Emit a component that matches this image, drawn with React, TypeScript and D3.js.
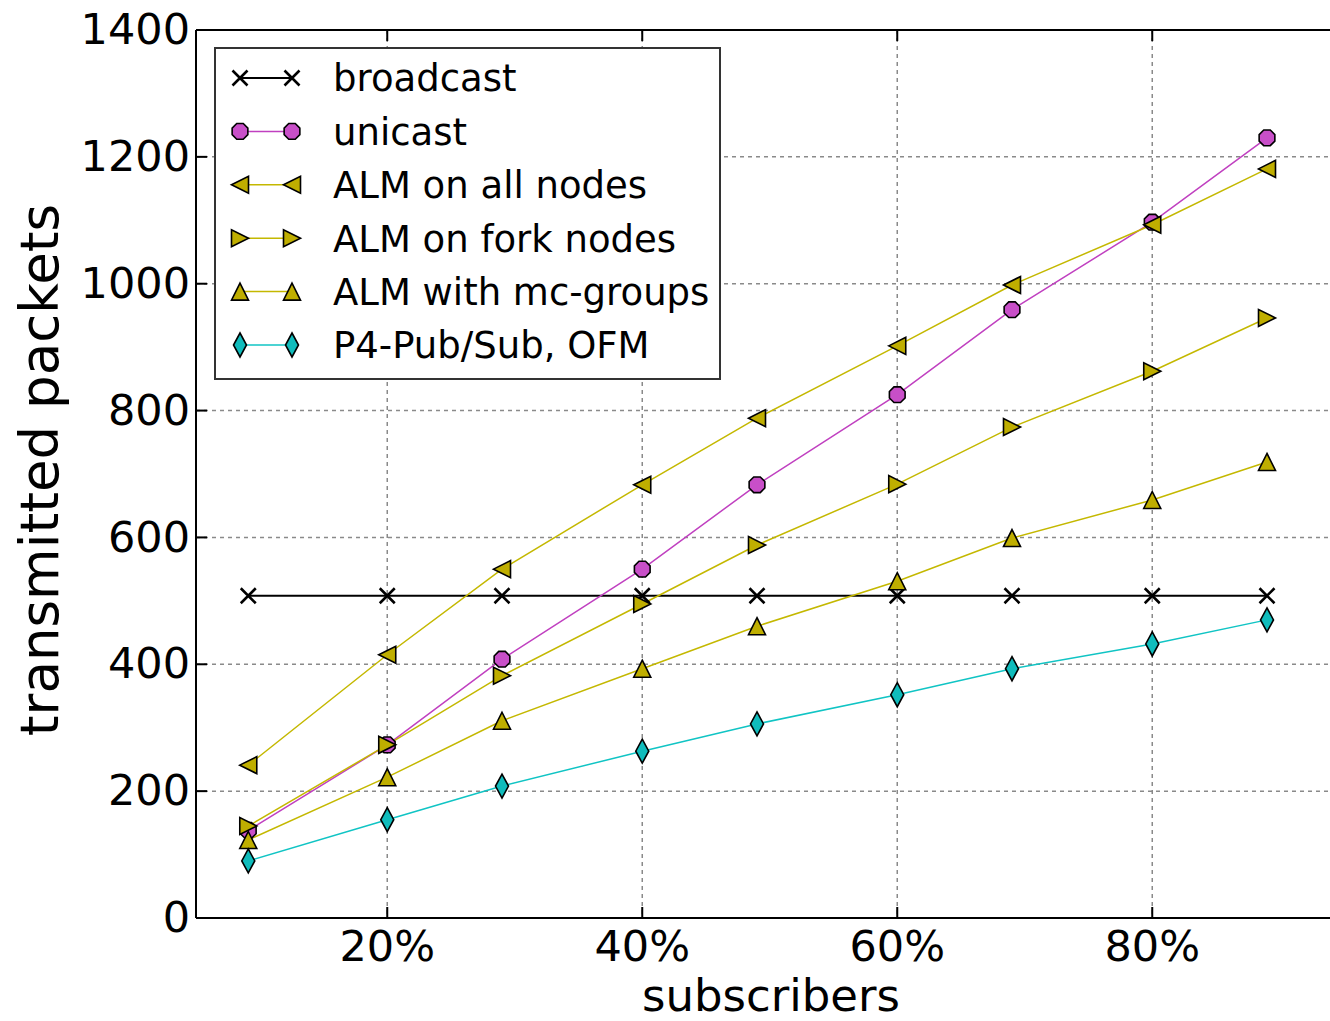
import React from 'react'
import { scaleLinear, line } from 'd3'

const width = 1330
const height = 1021
const margin = { top: 30, left: 196, bottom: 103 }
const innerHeight = height - margin.top - margin.bottom
const innerWidth = 1147.5

// subscriber share (%) for each measurement
const subscribers = [9.1, 20, 29, 40, 49, 60, 69, 80, 89]

const broadcast = [508, 508, 508, 508, 508, 508, 508, 508, 508]
const unicast = [138, 273, 408, 550, 683, 825, 959, 1097, 1230]
const almAll = [241, 415, 550, 683, 788, 902, 998, 1093, 1181]
const almFork = [145, 273, 382, 495, 588, 684, 774, 862, 946]
const almMc = [123, 222, 311, 393, 460, 531, 599, 659, 719]
const p4PubSub = [90, 155, 208, 263, 306, 352, 393, 432, 470]

const xTicks = [20, 40, 60, 80]
const yTicks = [0, 200, 400, 600, 800, 1000, 1200, 1400]

const series = [
  { name: 'broadcast', values: broadcast, color: '#000000', marker: 'x', lw: 2 },
  { name: 'unicast', values: unicast, color: '#c040c0', marker: 'oct', lw: 1.5 },
  { name: 'ALM on all nodes', values: almAll, color: '#c4b800', marker: 'left', lw: 1.5 },
  { name: 'ALM on fork nodes', values: almFork, color: '#c4b800', marker: 'right', lw: 1.5 },
  { name: 'ALM with mc-groups', values: almMc, color: '#c4b800', marker: 'up', lw: 1.5 },
  { name: 'P4-Pub/Sub, OFM', values: p4PubSub, color: '#10c4c4', marker: 'thin', lw: 1.5 },
]

const markerFill: Record<string, string> = {
  oct: '#c84fc8',
  left: '#bfae00',
  right: '#bfae00',
  up: '#bfae00',
  thin: '#10bcbc',
}

function Marker({ type, x, y }: { type: string; x: number; y: number }) {
  const r = 8.5
  if (type === 'x') {
    const s = 7.5
    return (
      <path
        d={`M${x - s},${y - s}L${x + s},${y + s}M${x - s},${y + s}L${x + s},${y - s}`}
        stroke="#000"
        strokeWidth={2.6}
        fill="none"
      />
    )
  }
  let pts: [number, number][] = []
  if (type === 'oct') {
    pts = [0, 1, 2, 3, 4, 5, 6, 7].map(i => {
      const a = (Math.PI / 8) + (i * Math.PI) / 4
      return [x + r * Math.cos(a), y + r * Math.sin(a)]
    })
  } else if (type === 'left') {
    pts = [[x - r, y], [x + r, y - r], [x + r, y + r]]
  } else if (type === 'right') {
    pts = [[x + r, y], [x - r, y - r], [x - r, y + r]]
  } else if (type === 'up') {
    pts = [[x, y - r], [x + r, y + r], [x - r, y + r]]
  } else if (type === 'thin') {
    pts = [[x, y - 12], [x + 6.5, y], [x, y + 12], [x - 6.5, y]]
  }
  return (
    <polygon
      points={pts.map(p => p.join(',')).join(' ')}
      fill={markerFill[type]}
      stroke="#000"
      strokeWidth={1.6}
      strokeLinejoin="miter"
    />
  )
}

export default function App() {
  const xScale = scaleLinear().domain([5, 95]).range([0, innerWidth])
  const yScale = scaleLinear().domain([0, 1400]).range([innerHeight, 0])
  const lineGen = line<number>()
    .x((_, i) => xScale(subscribers[i]))
    .y(d => yScale(d))

  const legend = { x: 215 - margin.left, y: 48 - margin.top, w: 505, h: 331, row: 53.4 }
  const font = 'DejaVu Sans, Verdana, sans-serif'

  return (
    <svg
      width={width}
      height={height}
      style={{ position: 'absolute', left: 0, top: 0, background: '#fff' }}
      fontFamily={font}
    >
      <g transform={`translate(${margin.left},${margin.top})`}>
        {/* grid */}
        {xTicks.map(t => (
          <line key={'gx' + t} x1={xScale(t)} x2={xScale(t)} y1={0} y2={innerHeight}
            stroke="#8a8a8a" strokeWidth={1.5} strokeDasharray="4,4" />
        ))}
        {yTicks.slice(1, -1).map(t => (
          <line key={'gy' + t} x1={0} x2={innerWidth} y1={yScale(t)} y2={yScale(t)}
            stroke="#8a8a8a" strokeWidth={1.5} strokeDasharray="4,4" />
        ))}

        {/* data lines */}
        {series.map(s => (
          <path key={'l' + s.name} d={lineGen(s.values) || ''} fill="none" stroke={s.color} strokeWidth={s.lw} />
        ))}
        {series.map(s => (
          <g key={'m' + s.name}>
            {s.values.map((v, i) => (
              <Marker key={i} type={s.marker} x={xScale(subscribers[i])} y={yScale(v)} />
            ))}
          </g>
        ))}

        {/* frame */}
        <line x1={0} x2={innerWidth} y1={0} y2={0} stroke="#000" strokeWidth={2} />
        <line x1={0} x2={innerWidth} y1={innerHeight} y2={innerHeight} stroke="#000" strokeWidth={2} />
        <line x1={0} x2={0} y1={0} y2={innerHeight} stroke="#000" strokeWidth={2} />

        {/* ticks */}
        {xTicks.map(t => (
          <g key={'tx' + t} transform={`translate(${xScale(t)},0)`}>
            <line y1={innerHeight} y2={innerHeight - 11} stroke="#000" strokeWidth={2} />
            <line y1={0} y2={11} stroke="#000" strokeWidth={2} />
            <text y={innerHeight + 43} textAnchor="middle" fontSize={43} fill="#000">{t}%</text>
          </g>
        ))}
        {yTicks.map(t => (
          <g key={'ty' + t} transform={`translate(0,${yScale(t)})`}>
            <line x1={0} x2={11} stroke="#000" strokeWidth={2} />
            <text x={-6} dy="0.33em" textAnchor="end" fontSize={43} fill="#000">{t}</text>
          </g>
        ))}

        {/* axis labels */}
        <text x={771 - margin.left} y={1011 - margin.top} textAnchor="middle" fontSize={45} fill="#000">subscribers</text>
        <text transform={`translate(${58 - margin.left},${470 - margin.top}) rotate(-90)`} textAnchor="middle" fontSize={53} fill="#000">transmitted packets</text>

        {/* legend */}
        <g transform={`translate(${legend.x},${legend.y})`}>
          <rect width={legend.w} height={legend.h} fill="#fff" stroke="#333" strokeWidth={2} />
          {series.map((s, i) => {
            const cy = 30 + i * legend.row
            return (
              <g key={'lg' + s.name}>
                <line x1={25} x2={77} y1={cy} y2={cy} stroke={s.color} strokeWidth={s.lw} />
                <Marker type={s.marker} x={25} y={cy} />
                <Marker type={s.marker} x={77} y={cy} />
                <text x={118} y={cy} dy="0.36em" fontSize={37} fill="#000">{s.name}</text>
              </g>
            )
          })}
        </g>
      </g>
    </svg>
  )
}
